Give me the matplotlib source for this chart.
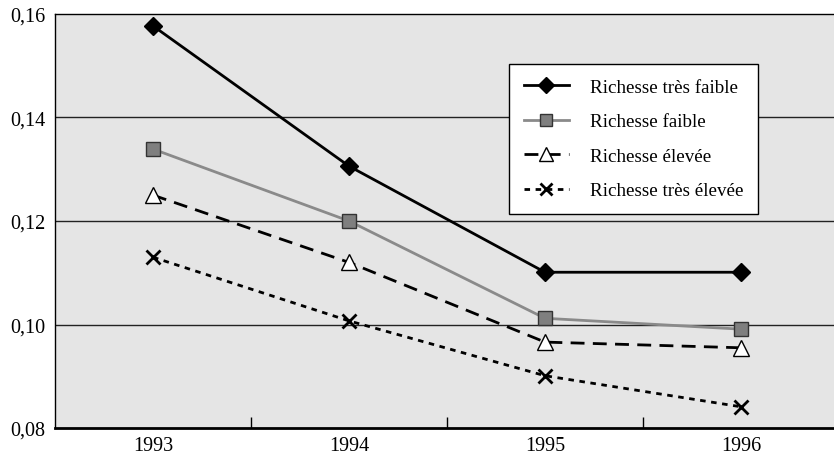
import matplotlib
matplotlib.use("Agg")
import matplotlib.pyplot as plt
import numpy as np

plt.rcParams['font.family'] = ['Liberation Serif', 'DejaVu Serif']

years = ["1993", "1994", "1995", "1996"]
tres_faible = [0.1577, 0.1306, 0.1101, 0.1101]
faible = [0.1339, 0.1200, 0.1012, 0.0991]
elevee = [0.1250, 0.1120, 0.0966, 0.0955]
tres_elevee = [0.1130, 0.1007, 0.0901, 0.0841]
y_ticks = [0.08, 0.10, 0.12, 0.14, 0.16]
y_labels = ["0,08", "0,10", "0,12", "0,14", "0,16"]

W, H = 834, 460
fig = plt.figure(figsize=(W / 100, H / 100), dpi=100)
ax = fig.add_axes([55 / W, 31 / H, 784 / W, 414 / H])
ax.set_facecolor('#e5e5e5')

x = np.arange(len(years))

ax.plot(x, tres_faible, color='black', lw=2, marker='D', ms=9,
        mfc='black', mec='black', label='Richesse très faible', zorder=5)
ax.plot(x, faible, color='#8a8a8a', lw=2, marker='s', ms=10,
        mfc='#7f7f7f', mec='#333333', mew=1, label='Richesse faible', zorder=4)
ax.plot(x, elevee, color='black', lw=2, ls=(0, (5, 3)), marker='^', ms=12,
        mfc='white', mec='black', mew=1, label='Richesse élevée', zorder=4)
ax.plot(x, tres_elevee, color='black', lw=2, ls=(0, (2, 2)), marker='x', ms=10,
        mew=2, mec='black', label='Richesse très élevée', zorder=4)

ax.set_xlim(-0.5, 3.5)
ax.set_ylim(0.08, 0.16)
ax.set_yticks(y_ticks)
ax.set_yticklabels(y_labels, fontsize=14.5)
ax.tick_params(axis='y', length=0, pad=7)

ax.set_xticks(x)
ax.set_xticklabels(years, fontsize=14.5)
ax.set_xticks(np.arange(0.5, 3.5, 1.0), minor=True)
ax.tick_params(axis='x', which='major', length=0, pad=6)
ax.tick_params(axis='x', which='minor', direction='in', length=8, width=1, color='black')

for v in y_ticks[1:4]:
    ax.axhline(v, color='#222222', lw=1, zorder=1)

for s in ['left', 'top']:
    ax.spines[s].set_color('black')
    ax.spines[s].set_linewidth(1)
ax.spines['bottom'].set_linewidth(2)
ax.spines['right'].set_visible(False)

leg = ax.legend(loc='upper left', bbox_to_anchor=((509 - 55) / 784, (429 - 65) / 414),
                frameon=True, fancybox=False, fontsize=13.7, handlelength=2.4,
                borderpad=0.77, labelspacing=0.9, handletextpad=1.1, borderaxespad=0,
                markerscale=0.85)
leg.get_frame().set_edgecolor('black')
leg.get_frame().set_linewidth(1)
leg.get_frame().set_facecolor('white')
leg.get_frame().set_alpha(1)

fig.savefig('out.png', dpi=100)
